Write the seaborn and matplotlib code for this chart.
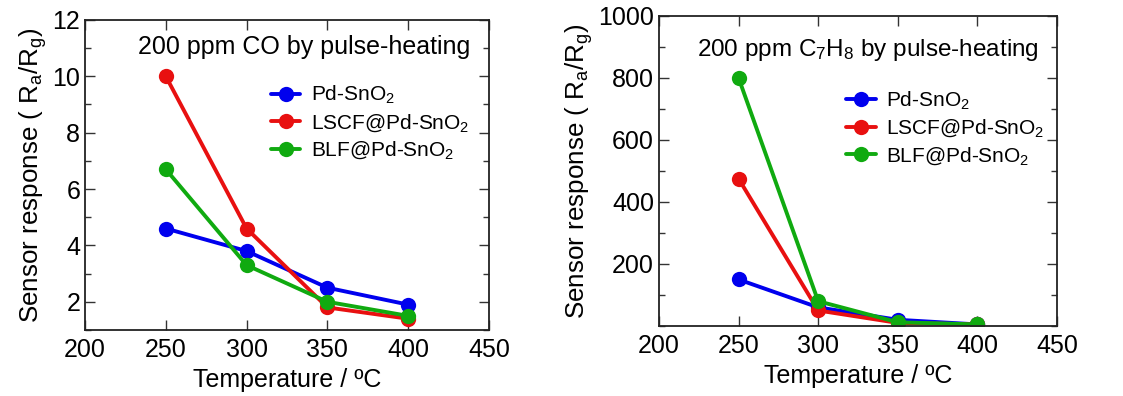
import matplotlib
matplotlib.use("Agg")
import matplotlib.pyplot as plt
import seaborn as sns
import pandas as pd
from matplotlib.ticker import MultipleLocator, FixedLocator

sns.set_theme(style="ticks")
plt.rcParams['font.family'] = ['Liberation Sans', 'DejaVu Sans']
plt.rcParams['mathtext.fontset'] = 'custom'
plt.rcParams['mathtext.rm'] = 'Liberation Sans'
plt.rcParams['mathtext.it'] = 'Liberation Sans'
plt.rcParams['text.color'] = 'black'
plt.rcParams['axes.labelcolor'] = 'black'
plt.rcParams['xtick.color'] = 'black'
plt.rcParams['ytick.color'] = 'black'

temps = [250, 300, 350, 400]
series = [r"Pd-SnO$_2$", r"LSCF@Pd-SnO$_2$", r"BLF@Pd-SnO$_2$"]
co_pd = [4.6, 3.8, 2.5, 1.9]
co_lscf = [10.0, 4.6, 1.8, 1.4]
co_blf = [6.7, 3.3, 2.0, 1.5]
tol_pd = [150, 60, 20, 5]
tol_lscf = [475, 50, 10, 5]
tol_blf = [800, 80, 12, 5]
titles = ["200 ppm CO by pulse-heating", r"200 ppm C$_7$H$_8$ by pulse-heating"]
xticks = [200, 250, 300, 350, 400, 450]

colors = {series[0]: "#0000ee", series[1]: "#e81010", series[2]: "#10aa10"}

def make_df(a, b, c):
    rows = []
    for name, vals in zip(series, [a, b, c]):
        for t, v in zip(temps, vals):
            rows.append({"T": t, "resp": v, "sensor": name})
    return pd.DataFrame(rows)

fig = plt.figure(figsize=(11.23, 3.96), dpi=100)
ax1 = fig.add_axes([0.0757, 0.1667, 0.3597, 0.783])
ax2 = fig.add_axes([0.5868, 0.1768, 0.3544, 0.783])

ylabel = r"Sensor response ( R$_\mathregular{a}$/R$_\mathregular{g}$)"

configs = [
    (ax1, make_df(co_pd, co_lscf, co_blf), (1.0, 12), [2, 4, 6, 8, 10, 12], 1, titles[0], (0.131, 0.913), (0.44, 0.82), 18),
    (ax2, make_df(tol_pd, tol_lscf, tol_blf), (0, 1000), [200, 400, 600, 800, 1000], 100, titles[1], (0.095, 0.89), (0.45, 0.79), 17.5),
]

for ax, df, ylim, yt, yminor, title, tpos, lpos, tfs in configs:
    sns.lineplot(data=df, x="T", y="resp", hue="sensor", palette=colors,
                 marker="o", markersize=11, markeredgewidth=0, linewidth=2.8,
                 ax=ax)
    ax.set_xlim(200, 450)
    ax.set_ylim(*ylim)
    ax.xaxis.set_major_locator(FixedLocator(xticks))
    ax.yaxis.set_major_locator(FixedLocator(yt))
    ax.yaxis.set_minor_locator(MultipleLocator(yminor))
    ax.tick_params(which="both", direction="in", top=True, right=True,
                   labelsize=18, width=1.0, color="#333333", labelcolor="black")
    ax.tick_params(which="major", length=7)
    ax.tick_params(which="minor", length=4)
    ax.tick_params(axis="x", pad=6)
    for s in ax.spines.values():
        s.set_linewidth(1.3)
        s.set_color("#222222")
    ax.set_xlabel("Temperature / ºC", fontsize=18, labelpad=4)
    ax.set_ylabel(ylabel, fontsize=18.7, labelpad=2)
    ax.text(tpos[0], tpos[1], title, transform=ax.transAxes, fontsize=tfs,
            ha="left", va="center")
    ax.legend(loc="upper left", bbox_to_anchor=lpos, frameon=False, fontsize=15,
              handlelength=1.4, handletextpad=0.5, labelspacing=0.28,
              borderaxespad=0)

fig.savefig("out.png", dpi=100)
